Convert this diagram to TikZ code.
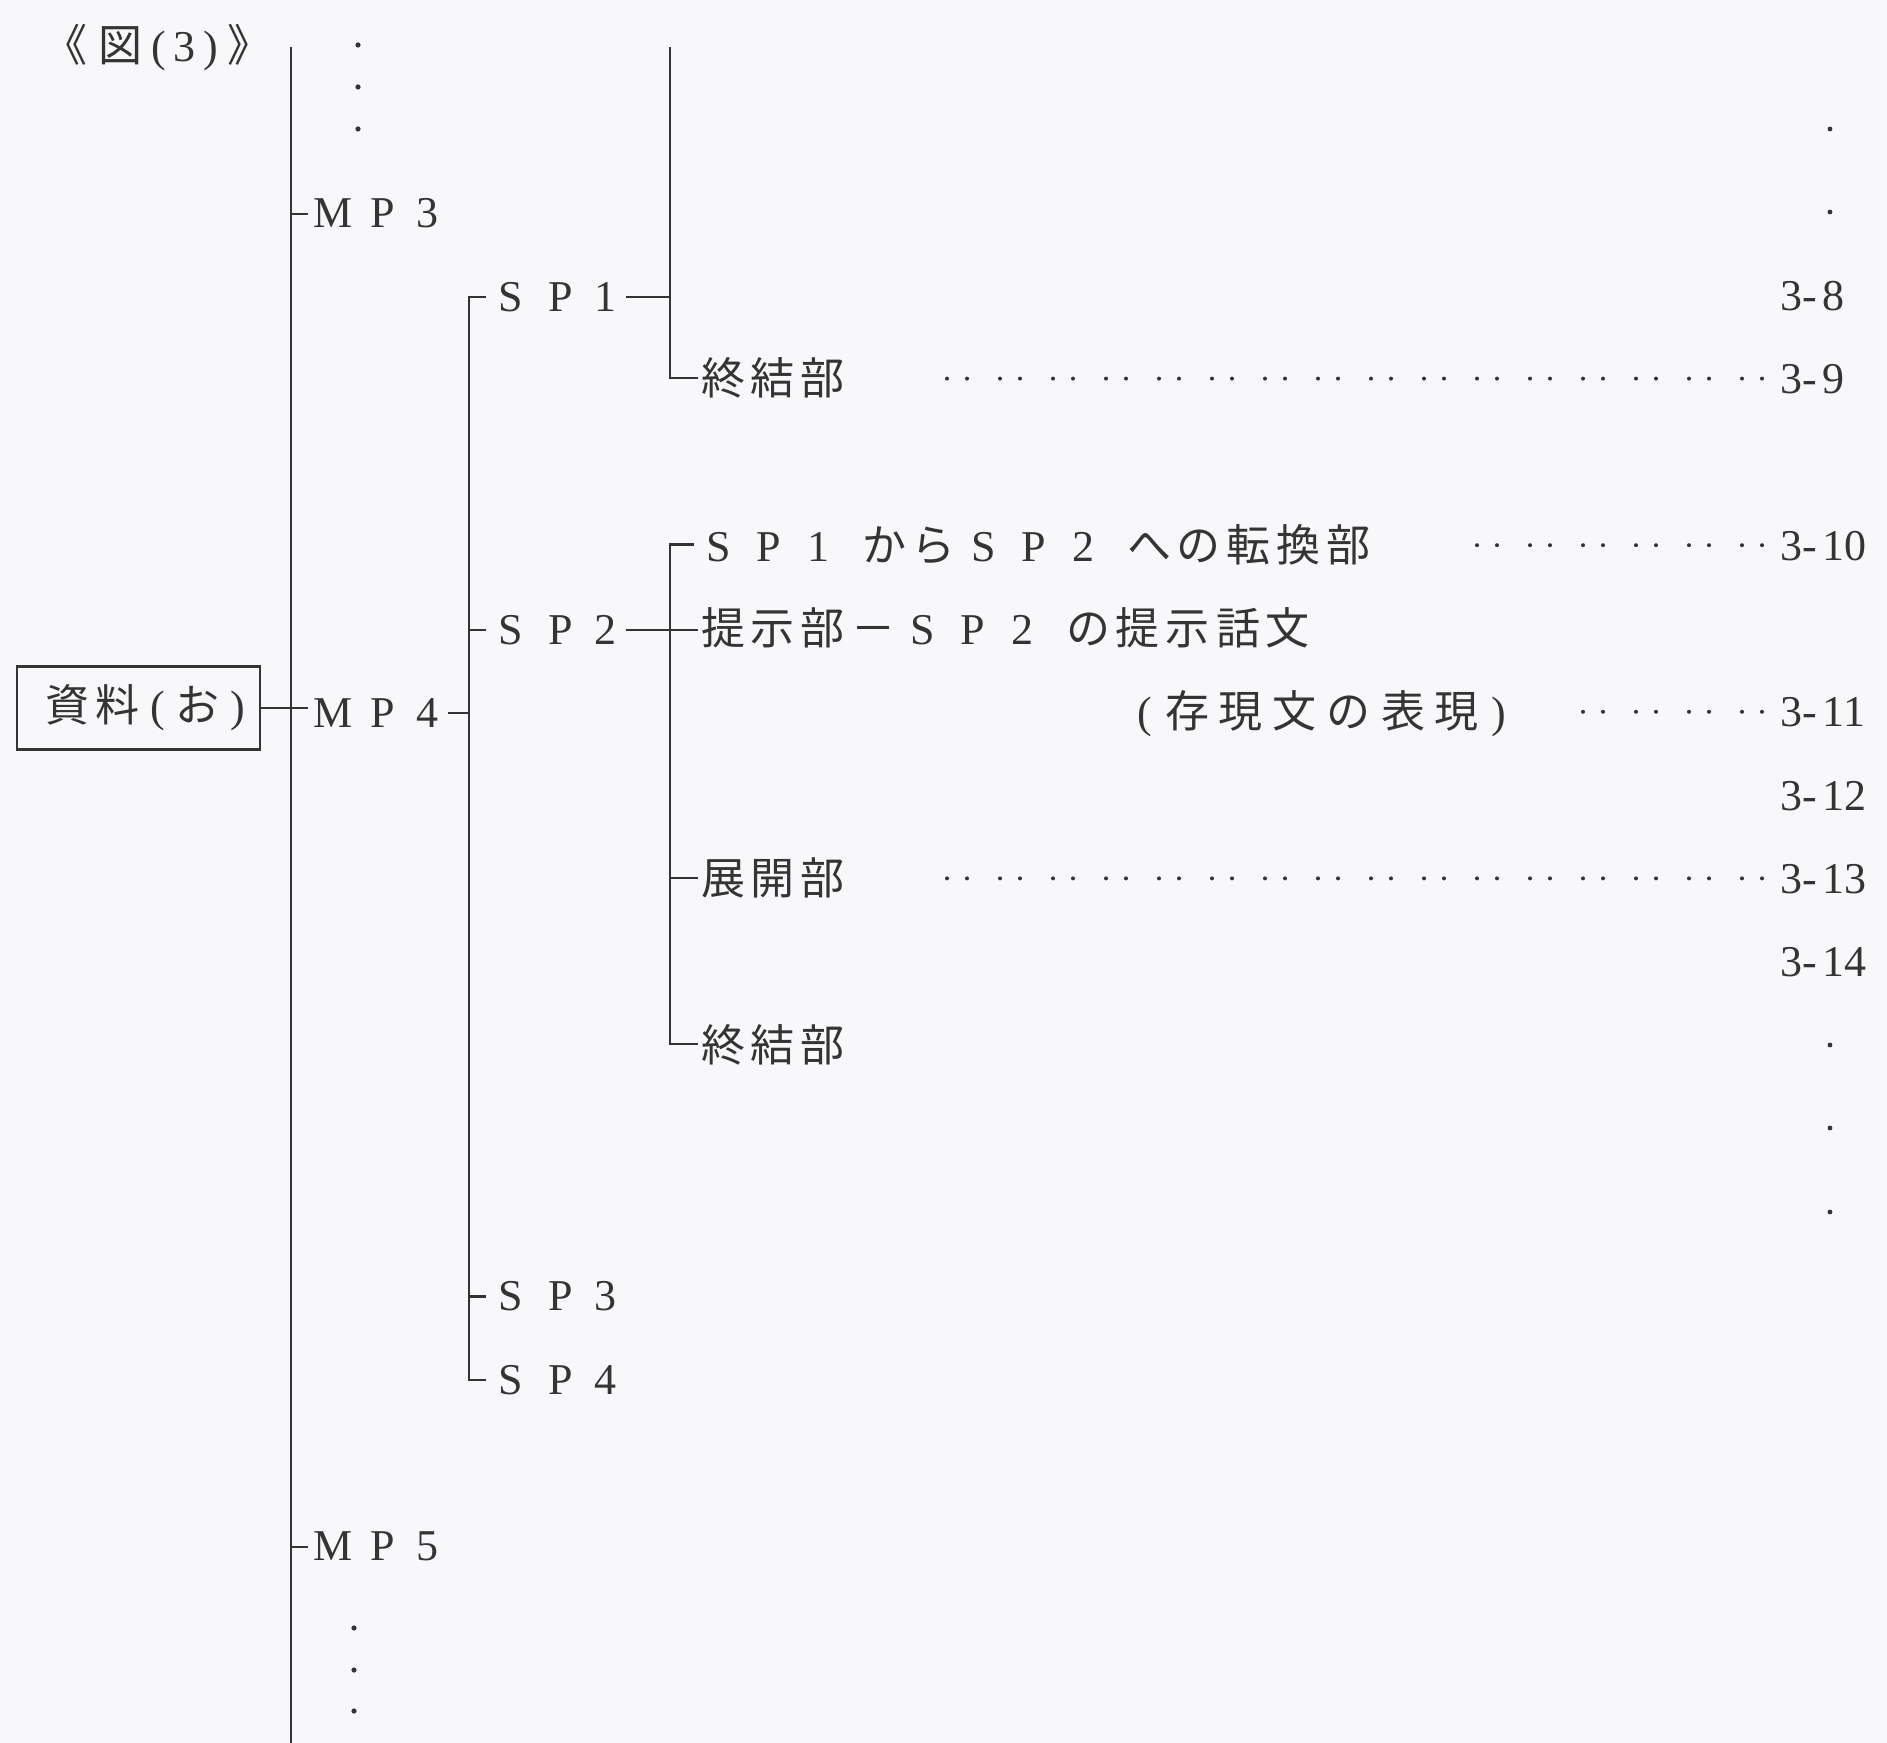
\documentclass[tikz,border=0pt]{standalone}
\usepackage{fontspec}
\setmainfont{Liberation Serif}
\newfontfamily\jpfont{Noto Sans CJK JP}
\newfontfamily\latfont{Liberation Serif}
\definecolor{ink}{RGB}{52,52,52}
\definecolor{paper}{RGB}{248,247,249}
\newcommand\jcell[1]{\makebox[25pt][c]{#1}}
\newcommand\wcell[1]{\makebox[27pt][c]{#1}}
\newcommand\lcell[1]{\makebox[25pt][c]{\latfont #1}}
\newcommand\dcell[1]{\makebox[20pt][c]{\latfont #1}}
\newcommand\pcell[1]{\makebox[15pt][c]{\latfont #1}}
\newcommand\hsp{\hspace*{7.5pt}}
\newcommand\jstr[1]{\jstrloop#1\relax}
\def\jstrloop#1{\ifx\relax#1\else\jcell{#1}\expandafter\jstrloop\fi}
\newcommand\wstr[1]{\wstrloop#1\relax}
\def\wstrloop#1{\ifx\relax#1\else\wcell{#1}\expandafter\wstrloop\fi}
\newcommand\numlab[2]{{\latfont #1\kern0.5pt-\kern2.5pt#2}}
\newcommand\ry[1]{(212+83.3*(#1))}
\begin{document}
\begin{tikzpicture}[x=0.5pt,y=-0.5pt,
  lab/.style={anchor=base west, inner sep=0pt, outer sep=0pt, text=ink, font=\fontsize{22}{26}\selectfont\jpfont},
  num/.style={anchor=base west, inner sep=0pt, outer sep=0pt, text=ink, font=\fontsize{22}{26}\selectfont\latfont},
  wire/.style={draw=ink, line width=1.1pt},
  srcbox/.style={draw=ink, line width=1.1pt, inner sep=0pt, minimum width=121.5pt, minimum height=41.5pt, text=ink, font=\fontsize{22}{26}\selectfont\jpfont},
  dotmark/.style={fill=ink}]
\fill[paper] (0,0) rectangle (1887,1743);
\useasboundingbox (0,0) rectangle (1887,1743);

% labels
\node[lab] (fig) at (40,{\ry{-2}+16}) {\jcell{《}\kern3pt\jcell{図}\makebox[13pt][c]{\latfont(}\makebox[13pt][c]{\latfont 3}\makebox[13pt][c]{\latfont)}\jcell{》}};
\node[lab] (mp3) at (308,{\ry{0}+16}) {\lcell{M}\lcell{P}\dcell{3}};
\node[lab] (mp4) at (308,{\ry{6}+16}) {\lcell{M}\lcell{P}\dcell{4}};
\node[lab] (mp5) at (308,{\ry{16}+16}) {\lcell{M}\lcell{P}\dcell{5}};
\node[lab] (sp1) at (486,{\ry{1}+16}) {\lcell{S}\lcell{P}\dcell{1}};
\node[lab] (sp2) at (486,{\ry{5}+16}) {\lcell{S}\lcell{P}\dcell{2}};
\node[lab] (sp3) at (486,{\ry{13}+16}) {\lcell{S}\lcell{P}\dcell{3}};
\node[lab] (sp4) at (486,{\ry{14}+16}) {\lcell{S}\lcell{P}\dcell{4}};
\node[lab] (end1) at (698,{\ry{2}+16}) {\jstr{終結部}};
\node[lab] (trans) at (694,{\ry{4}+16}) {\lcell{S}\lcell{P}\lcell{1}\hsp\jstr{から}\lcell{S}\lcell{P}\lcell{2}\hsp\jstr{への転換部}};
\node[lab] (pres) at (698,{\ry{5}+16}) {\jstr{提示部－}\lcell{S}\lcell{P}\lcell{2}\hsp\jstr{の提示話文}};
\node[lab] (exist) at (1130,{\ry{6}+16}) {\pcell{(}\wstr{存現文の表現}\pcell{)}};
\node[lab] (dev) at (698,{\ry{8}+16}) {\jstr{展開部}};
\node[lab] (end2) at (698,{\ry{10}+16}) {\jstr{終結部}};
\node[srcbox] (src) at (138.5,708) {\makebox[121.5pt][l]{\hspace*{13pt}\raisebox{-3pt}{\jcell{資}\jcell{料}\pcell{(}\jcell{お}\pcell{)}}}};

% page numbers
\node[num] (n8)  at (1780,{\ry{1}+15}) {\numlab{3}{8}};
\node[num] (n9)  at (1780,{\ry{2}+15}) {\numlab{3}{9}};
\node[num] (n10) at (1780,{\ry{4}+15}) {\numlab{3}{10}};
\node[num] (n11) at (1780,{\ry{6}+15}) {\numlab{3}{11}};
\node[num] (n12) at (1780,{\ry{7}+15}) {\numlab{3}{12}};
\node[num] (n13) at (1780,{\ry{8}+15}) {\numlab{3}{13}};
\node[num] (n14) at (1780,{\ry{9}+15}) {\numlab{3}{14}};

% tree lines
\coordinate (mtop) at (291,47);
\coordinate (mbot) at (291,1743);
\coordinate (spx) at (469,0);
\coordinate (chx) at (670,47);
\draw[wire] (mtop) -- (mbot);
\draw[wire] (mp3.west -| mtop) -- (mp3.west);
\draw[wire] (mp5.west -| mtop) -- (mp5.west);
\draw[wire] (src.east) -- (src.east -| mp4.west);
\draw[wire] (sp1.west) -- (sp1.west -| spx) -- (sp4.west -| spx) -- (sp4.west);
\draw[wire] (sp2.west -| spx) -- (sp2.west);
\draw[wire] (sp3.west -| spx) -- (sp3.west);
\draw[wire] (mp4.east) -- (mp4.east -| spx);
\draw[wire] (chx) -- (chx |- end1.west) -- (end1.west);
\draw[wire] (sp1.east) -- (sp1.east -| chx);
\draw[wire] (trans.west) -- (trans.west -| chx) -- (end2.west -| chx) -- (end2.west);
\draw[wire] (sp2.east) -- (sp2.east -| pres.west);
\draw[wire] (dev.west -| chx) -- (dev.west);

% vertical ellipsis dots
\foreach \yy in {45,87,129} \fill[dotmark] (358,\yy) circle (1.3pt);
\foreach \yy in {1628,1670,1711} \fill[dotmark] (354,\yy) circle (1.3pt);
\foreach \yy in {129,212,1045,1128,1212} \fill[dotmark] (1830,\yy) circle (1.2pt);

% leader dots
\foreach \k in {0,...,15} {
  \fill[dotmark] ({947+53*\k},{\ry{2}}) circle (1pt);
  \fill[dotmark] ({967+53*\k},{\ry{2}}) circle (1pt);
  \fill[dotmark] ({947+53*\k},{\ry{8}}) circle (1pt);
  \fill[dotmark] ({967+53*\k},{\ry{8}}) circle (1pt);
}
\foreach \k in {0,...,5} {
  \fill[dotmark] ({1477+53*\k},{\ry{4}}) circle (1pt);
  \fill[dotmark] ({1497+53*\k},{\ry{4}}) circle (1pt);
}
\foreach \k in {0,...,3} {
  \fill[dotmark] ({1583+53*\k},{\ry{6}}) circle (1pt);
  \fill[dotmark] ({1603+53*\k},{\ry{6}}) circle (1pt);
}
\end{tikzpicture}
\end{document}
